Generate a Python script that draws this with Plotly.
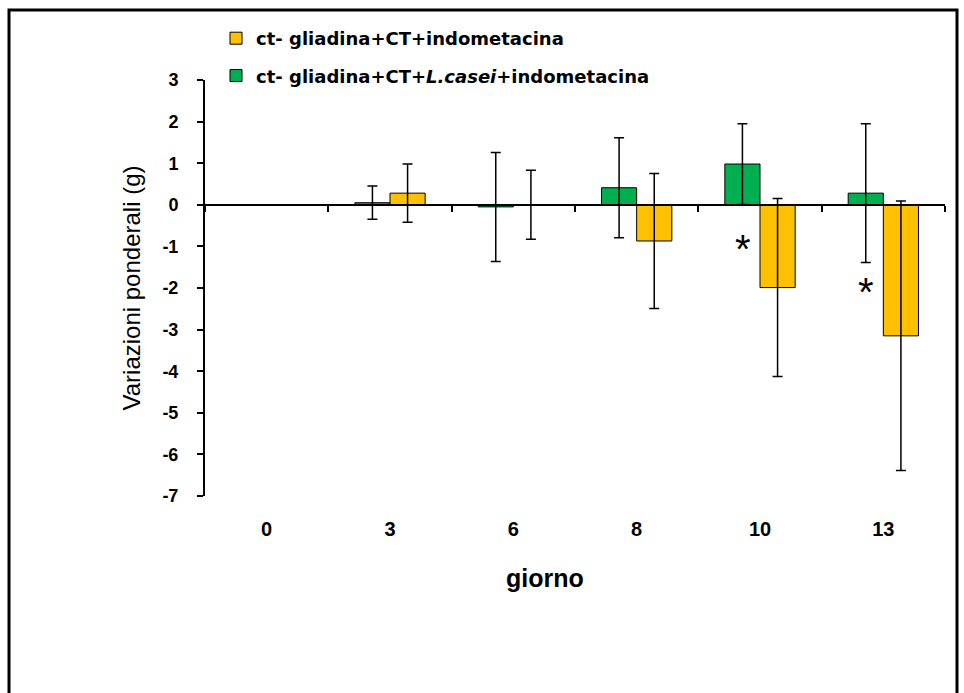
import plotly.graph_objects as go

days = ["0", "3", "6", "8", "10", "13"]
green_name = "<b>ct- gliadina+CT+<i>L.casei</i>+indometacina</b>"
yellow_name = "<b>ct- gliadina+CT+indometacina</b>"
green_vals = [0, 0.05, -0.05, 0.41, 0.98, 0.28]
green_err = [None, 0.40, 1.31, 1.20, 0.97, 1.67]
yellow_vals = [0, 0.28, 0.0, -0.87, -1.99, -3.15]
yellow_err = [None, 0.70, 0.83, 1.62, 2.14, 3.24]
star_days = ["10", "13"]
star_y = [-1.06, -2.1]
y_ticks = [3, 2, 1, 0, -1, -2, -3, -4, -5, -6, -7]
y_tick_labels = ["3", "2", "1", "0", "-1", "-2", "-3", "-4", "-5", "-6", "-7"]

GREEN = "#00B050"
YELLOW = "#FFC000"

fig = go.Figure()
fig.add_trace(go.Bar(
    x=days, y=green_vals, name=green_name, legendgroup="g", legendrank=2,
    marker=dict(color=GREEN, line=dict(color="black", width=1)),
    error_y=dict(type="data", array=green_err, visible=True, color="black", thickness=1.5, width=5),
))
fig.add_trace(go.Bar(
    x=days, y=yellow_vals, name=yellow_name, legendgroup="y", legendrank=1,
    marker=dict(color=YELLOW, line=dict(color="black", width=1)),
    error_y=dict(type="data", array=yellow_err, visible=True, color="black", thickness=1.5, width=5),
))
# helper trace for the zero-line axis with boundary ticks
fig.add_trace(go.Scatter(x=days, y=[0] * len(days), xaxis="x2", mode="lines",
                         line=dict(width=0), showlegend=False, hoverinfo="skip"))

for d, yv in zip(star_days, star_y):
    fig.add_annotation(x=days.index(d), y=yv, xref="x", yref="y", text="*", showarrow=False,
                       xshift=-17, font=dict(size=40, color="black", family="Arial"))

L, R, T, B = 205, 19, 80, 197
W, H = 964, 693
pw, ph = W - L - R, H - T - B

def px(x):
    return (x - L) / pw

def py(y):
    return (H - B - y) / ph

fig.add_shape(type="rect", xref="paper", yref="paper",
              x0=px(9), x1=px(957), y0=py(698), y1=py(10),
              line=dict(color="black", width=3), fillcolor="rgba(0,0,0,0)", layer="below")

fig.add_annotation(x=px(545), y=py(594), xref="paper", yref="paper", showarrow=False,
                   text="<b>giorno</b>", font=dict(family="Arial", size=25, color="black"))

fig.update_layout(
    width=W, height=H,
    margin=dict(l=L, r=R, t=T, b=B),
    paper_bgcolor="white", plot_bgcolor="white",
    barmode="group", bargap=0.43, bargroupgap=0,
    showlegend=True,
    legend=dict(x=px(216), y=py(20), xanchor="left", yanchor="top",
                traceorder="grouped", tracegroupgap=11,
                font=dict(family="DejaVu Sans", size=18, color="black"),
                bgcolor="rgba(0,0,0,0)", itemwidth=30),
    xaxis=dict(type="category", categoryorder="array", categoryarray=days,
               range=[-0.5, 5.5], showline=False, ticks="", showgrid=False, zeroline=False,
               ticklabelstandoff=19,
               tickfont=dict(family="Arial", size=20, color="black", weight="bold")),
    xaxis2=dict(type="category", categoryorder="array", categoryarray=days,
                overlaying="x", anchor="free", position=0.7, range=[-0.5, 5.5],
                tickson="boundaries", ticks="outside", ticklen=6, tickwidth=2, tickcolor="black",
                showticklabels=False, showline=True, linecolor="black", linewidth=2,
                showgrid=False, zeroline=False),
    yaxis=dict(range=[-7, 3], tickvals=y_ticks, ticktext=y_tick_labels,
               showline=True, linecolor="black", linewidth=2,
               ticks="outside", ticklen=6, tickwidth=2, tickcolor="black",
               showgrid=False, zeroline=False, ticklabelstandoff=15,
               tickfont=dict(family="Arial", size=18, color="black", weight="bold"),
               title=dict(text="Variazioni ponderali (g)", font=dict(family="Arial", size=24, color="black"), standoff=15)),
)

fig.write_html("out.html", config={"displayModeBar": False},
               post_script="document.body.style.margin='0';")
